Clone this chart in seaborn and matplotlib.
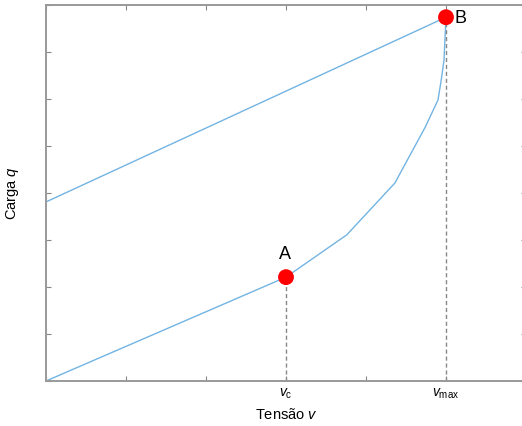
import numpy as np
import pandas as pd
import matplotlib
matplotlib.use('Agg')
import matplotlib.pyplot as plt
import seaborn as sns

# --- data ---
lower_x = [0.0, 3.0]
lower_y = [0.0, 2.21]

curve_x = [3.0, 3.76, 4.36, 4.74, 4.90, 4.94, 4.975, 5.0]
curve_y = [2.21, 3.11, 4.21, 5.40, 5.98, 6.40, 6.83, 7.74]

upper_x = [0.0, 5.0]
upper_y = [3.81, 7.74]

point_x = [3.0, 5.0]
point_y = [2.21, 7.74]
point_names = ['A', 'B']

x_ticks = [0, 1, 2, 3, 4, 5]
x_ticklabels = ['', '', '', r'$v_{\mathrm{c}}$', '', r'$v_{\mathrm{max}}$']
y_ticks = [0, 1, 2, 3, 4, 5, 6, 7, 8]

# --- style ---
sns.set_style('white')
plt.rcParams['font.family'] = ['Liberation Sans', 'DejaVu Sans']
plt.rcParams['mathtext.fontset'] = 'custom'
plt.rcParams['mathtext.rm'] = 'Liberation Sans'
plt.rcParams['mathtext.it'] = 'Liberation Sans:italic'
plt.rcParams['text.color'] = 'black'
plt.rcParams['axes.labelcolor'] = 'black'
plt.rcParams['xtick.color'] = 'black'

fig = plt.figure(figsize=(5.22, 4.26), dpi=100)
# right spine sits just past the right edge of the picture
ax = fig.add_axes([46 / 522, (426 - 381) / 426, (526 - 46) / 522, (381 - 5) / 426])

line_color = '#72b4e2'
df_lower = pd.DataFrame({'x': lower_x, 'y': lower_y})
df_curve = pd.DataFrame({'x': curve_x, 'y': curve_y})
df_upper = pd.DataFrame({'x': upper_x, 'y': upper_y})
for d in (df_lower, df_curve, df_upper):
    sns.lineplot(data=d, x='x', y='y', sort=False, color=line_color,
                 linewidth=1.0, ax=ax, estimator=None)

# dashed drop lines
for px, py in zip(point_x, point_y):
    ax.plot([px, px], [0, py], linestyle=(0, (3, 2)), color='#888888',
            linewidth=1.0, zorder=2)

pts = pd.DataFrame({'x': point_x, 'y': point_y})
sns.scatterplot(data=pts, x='x', y='y', color='#ff0000', s=130,
                edgecolor='none', zorder=5, ax=ax)

ax.annotate(point_names[0], (point_x[0], point_y[0]), xytext=(-1, 10),
            textcoords='offset points', ha='center', va='bottom', fontsize=13)
ax.annotate(point_names[1], (point_x[1], point_y[1]), xytext=(6, -1),
            textcoords='offset points', ha='left', va='center', fontsize=13)

ax.set_xlim(0, (526 - 46) / 80)
ax.set_ylim(0, 8)
ax.set_xticks(x_ticks)
ax.set_xticklabels(x_ticklabels, fontsize=10)
ax.set_yticks(y_ticks)
ax.set_yticklabels([])
ax.tick_params(direction='in', length=3.6, width=0.8, color='#888888',
               top=True, right=True, bottom=True, left=True, pad=4)

for s in ax.spines.values():
    s.set_color('#999999')
    s.set_linewidth(1.4)

ax.set_xlabel(r'Tensão $v$', fontsize=10.5, labelpad=4)
ax.set_ylabel(r'Carga $q$', fontsize=10.5, labelpad=14)

fig.savefig('out.png', dpi=100)
